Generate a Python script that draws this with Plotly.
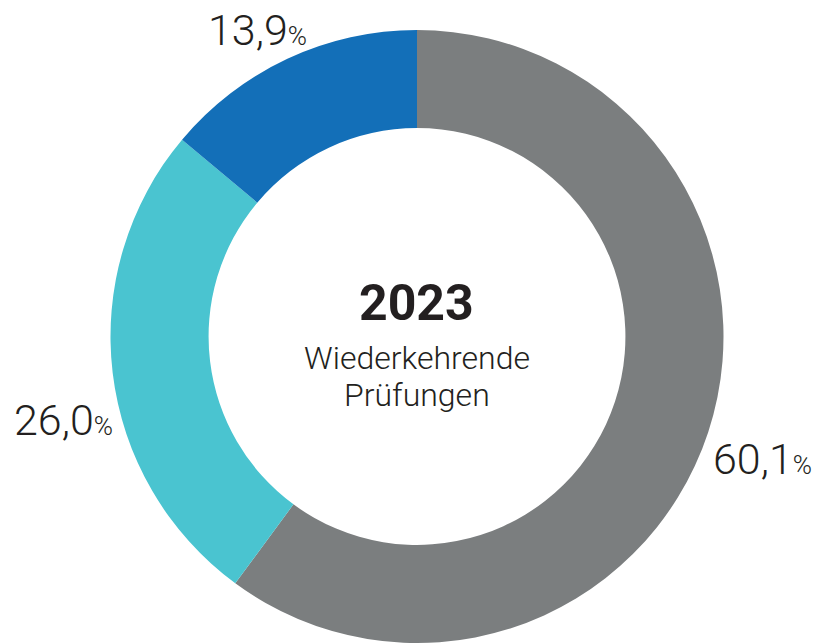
import plotly.graph_objects as go

categories = ["A", "B", "C"]
values = [60.1, 26.0, 13.9]
label_texts = ["60,1", "26,0", "13,9"]
colors = ["#7b7e7f", "#4ac4d0", "#136fb8"]

W, H = 823, 643
cx, top = 417, 30
r = (H - top) / 2

fig = go.Figure(go.Pie(
    labels=categories,
    values=values,
    hole=0.68,
    sort=False,
    direction="clockwise",
    rotation=0,
    textinfo="none",
    hoverinfo="skip",
    marker=dict(colors=colors, line=dict(width=0)),
    domain=dict(x=[(cx - r) / W, (cx + r) / W], y=[0, 1 - top / H]),
    showlegend=False,
))

font_main = "Roboto"
label_pos = [(762, 459), (63, 420), (257, 30)]
for (px, py), t in zip(label_pos, label_texts):
    fig.add_annotation(
        x=px / W, y=1 - py / H, xref="paper", yref="paper",
        text=f"{t}<span style='font-size:26px'>%</span>",
        showarrow=False, xanchor="center", yanchor="middle",
        font=dict(family=font_main, size=43, color="#231f20", weight=300),
    )

fig.add_annotation(x=cx / W, y=1 - 303 / H, xref="paper", yref="paper",
                   text="<b>2023</b>", showarrow=False,
                   font=dict(family=font_main, size=50, color="#231f20"))
fig.add_annotation(x=cx / W, y=1 - 358 / H, xref="paper", yref="paper",
                   text="Wiederkehrende", showarrow=False,
                   font=dict(family=font_main, size=32, color="#231f20", weight=300))
fig.add_annotation(x=cx / W, y=1 - 395 / H, xref="paper", yref="paper",
                   text="Prüfungen", showarrow=False,
                   font=dict(family=font_main, size=32, color="#231f20", weight=300))

fig.update_layout(
    width=W, height=H,
    margin=dict(l=0, r=0, t=0, b=0),
    paper_bgcolor="white", plot_bgcolor="white",
)

fig.write_html("out.html")
